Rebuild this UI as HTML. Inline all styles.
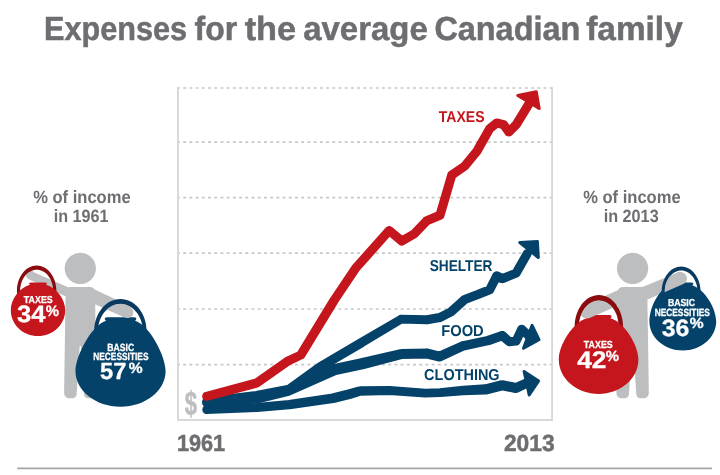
<!DOCTYPE html>
<html lang="en">
<head>
<meta charset="utf-8">
<title>Expenses for the average Canadian family</title>
<style>
html,body{margin:0;padding:0;background:#fff;}
body{width:720px;height:475px;overflow:hidden;}
svg{display:block;}
svg text{font-family:"Liberation Sans",sans-serif;text-rendering:geometricPrecision;}
</style>
</head>
<body>
<svg width="720" height="475" viewBox="0 0 720 475">
<rect width="720" height="475" fill="#ffffff"/>
<g stroke="#c6c7c9" stroke-width="1.7" stroke-dasharray="2.9 3.312" fill="none">
<line x1="177" y1="88.0" x2="552.5" y2="88.0"/>
<line x1="177" y1="142.1" x2="552.5" y2="142.1"/>
<line x1="177" y1="197.7" x2="552.5" y2="197.7"/>
<line x1="177" y1="253.1" x2="552.5" y2="253.1"/>
<line x1="177" y1="309.0" x2="552.5" y2="309.0"/>
<line x1="177" y1="364.6" x2="552.5" y2="364.6"/>
</g>
<path d="M178,87.2 V420 H552.1 V87.2" fill="none" stroke="#d7d8db" stroke-width="1.9"/>
<text x="184.78" y="415.17" font-size="33.78" font-weight="bold" fill="#bcbec0" textLength="12.37" lengthAdjust="spacingAndGlyphs" stroke="#bcbec0" stroke-width="0.5">$</text>
<line x1="17.2" y1="468.3" x2="712" y2="468.3" stroke="#a2a3a8" stroke-width="1.7"/>
<text y="40" font-size="33.4" font-weight="bold" fill="#6d6e71" stroke="#6d6e71" stroke-width="0.5"><tspan x="44.01" textLength="143.10" lengthAdjust="spacingAndGlyphs">Expenses</tspan> <tspan x="194.52" textLength="42.63" lengthAdjust="spacingAndGlyphs">for</tspan> <tspan x="244.66" textLength="51.41" lengthAdjust="spacingAndGlyphs">the</tspan> <tspan x="303.18" textLength="124.55" lengthAdjust="spacingAndGlyphs">average</tspan> <tspan x="434.40" textLength="145.87" lengthAdjust="spacingAndGlyphs">Canadian</tspan> <tspan x="586.20" textLength="96.54" lengthAdjust="spacingAndGlyphs">family</tspan></text>
<text font-size="17.8" font-weight="bold" fill="#6d6e71"><tspan x="33.17" y="202.6" textLength="97.45" lengthAdjust="spacingAndGlyphs">% of income</tspan> <tspan x="53.65" y="222.4" textLength="54.88" lengthAdjust="spacingAndGlyphs">in 1961</tspan></text>
<text font-size="17.8" font-weight="bold" fill="#6d6e71"><tspan x="583.17" y="202.6" textLength="97.45" lengthAdjust="spacingAndGlyphs">% of income</tspan> <tspan x="603.64" y="222.4" textLength="55.04" lengthAdjust="spacingAndGlyphs">in 2013</tspan></text>
<text x="176.90" y="451.4" font-size="23.4" font-weight="bold" fill="#6d6e71" textLength="48.27" lengthAdjust="spacingAndGlyphs" stroke="#6d6e71" stroke-width="0.5">1961</text>
<text x="503.92" y="451.4" font-size="23.4" font-weight="bold" fill="#6d6e71" textLength="50.71" lengthAdjust="spacingAndGlyphs" stroke="#6d6e71" stroke-width="0.5">2013</text>
<path d="M211.1,409.7 L210.9,411.1 L210.3,412.3 L209.3,413.3 L208.1,413.9 L206.7,414.1 L205.3,413.9 L204.1,413.3 L203.1,412.3 L202.5,411.1 L202.3,409.7 L202.5,408.3 L203.1,407.1 L204.1,406.1 L205.3,405.5 L206.7,405.3 L208.1,405.5 L209.3,406.1 L210.3,407.1 L210.9,408.3Z M206.5,405.3 L256.5,403.1 L256.9,411.9 L206.9,414.1Z M261.1,407.5 L260.9,408.9 L260.3,410.1 L259.3,411.1 L258.1,411.7 L256.7,411.9 L255.3,411.7 L254.1,411.1 L253.1,410.1 L252.5,408.9 L252.3,407.5 L252.5,406.1 L253.1,404.9 L254.1,403.9 L255.3,403.3 L256.7,403.1 L258.1,403.3 L259.3,403.9 L260.3,404.9 L260.9,406.1Z M256.3,403.1 L288.8,400.1 L289.6,409.3 L257.1,411.9Z M293.8,404.7 L293.6,406.1 L292.9,407.4 L291.9,408.4 L290.6,409.1 L289.2,409.3 L287.8,409.1 L286.5,408.4 L285.5,407.4 L284.8,406.1 L284.6,404.7 L284.8,403.3 L285.5,402.0 L286.5,401.0 L287.8,400.3 L289.2,400.1 L290.6,400.3 L291.9,401.0 L292.9,402.0 L293.6,403.3Z M288.5,400.1 L332.3,393.6 L333.7,403.0 L289.9,409.3Z M337.8,398.3 L337.6,399.8 L336.9,401.1 L335.8,402.2 L334.5,402.9 L333.0,403.1 L331.5,402.9 L330.2,402.2 L329.1,401.1 L328.4,399.8 L328.2,398.3 L328.4,396.8 L329.1,395.5 L330.2,394.4 L331.5,393.7 L333.0,393.5 L334.5,393.7 L335.8,394.4 L336.9,395.5 L337.6,396.8Z M331.8,393.6 L348.8,389.2 L351.2,398.8 L334.2,403.0Z M354.9,394.0 L354.7,395.5 L354.0,396.9 L352.9,398.0 L351.5,398.7 L350.0,398.9 L348.5,398.7 L347.1,398.0 L346.0,396.9 L345.3,395.5 L345.1,394.0 L345.3,392.5 L346.0,391.1 L347.1,390.0 L348.5,389.3 L350.0,389.1 L351.5,389.3 L352.9,390.0 L354.0,391.1 L354.7,392.5Z M348.6,389.3 L358.6,386.5 L361.4,395.5 L351.4,398.7Z M364.7,391.0 L364.5,392.5 L363.8,393.8 L362.8,394.8 L361.5,395.5 L360.0,395.7 L358.5,395.5 L357.2,394.8 L356.2,393.8 L355.5,392.5 L355.3,391.0 L355.5,389.5 L356.2,388.2 L357.2,387.2 L358.5,386.5 L360.0,386.3 L361.5,386.5 L362.8,387.2 L363.8,388.2 L364.5,389.5Z M359.9,386.3 L389.4,386.1 L389.6,394.9 L360.1,395.7Z M393.9,390.5 L393.7,391.9 L393.1,393.1 L392.1,394.1 L390.9,394.7 L389.5,394.9 L388.1,394.7 L386.9,394.1 L385.9,393.1 L385.3,391.9 L385.1,390.5 L385.3,389.1 L385.9,387.9 L386.9,386.9 L388.1,386.3 L389.5,386.1 L390.9,386.3 L392.1,386.9 L393.1,387.9 L393.7,389.1Z M389.8,386.1 L425.6,388.7 L425.0,397.5 L389.2,394.9Z M429.7,393.1 L429.5,394.5 L428.9,395.7 L427.9,396.7 L426.7,397.3 L425.3,397.5 L423.9,397.3 L422.7,396.7 L421.7,395.7 L421.1,394.5 L420.9,393.1 L421.1,391.7 L421.7,390.5 L422.7,389.5 L423.9,388.9 L425.3,388.7 L426.7,388.9 L427.9,389.5 L428.9,390.5 L429.5,391.7Z M425.2,388.7 L439.9,388.2 L440.1,397.0 L425.4,397.5Z M444.4,392.6 L444.2,394.0 L443.6,395.2 L442.6,396.2 L441.4,396.8 L440.0,397.0 L438.6,396.8 L437.4,396.2 L436.4,395.2 L435.8,394.0 L435.6,392.6 L435.8,391.2 L436.4,390.0 L437.4,389.0 L438.6,388.4 L440.0,388.2 L441.4,388.4 L442.6,389.0 L443.6,390.0 L444.2,391.2Z M439.6,388.2 L462.9,385.8 L463.7,395.2 L440.4,397.0Z M468.0,390.5 L467.8,392.0 L467.1,393.3 L466.1,394.3 L464.8,395.0 L463.3,395.2 L461.8,395.0 L460.5,394.3 L459.5,393.3 L458.8,392.0 L458.6,390.5 L458.8,389.0 L459.5,387.7 L460.5,386.7 L461.8,386.0 L463.3,385.8 L464.8,386.0 L466.1,386.7 L467.1,387.7 L467.8,389.0Z M463.1,385.8 L485.3,384.3 L485.9,394.5 L463.5,395.2Z M490.7,389.4 L490.5,391.0 L489.7,392.4 L488.6,393.5 L487.2,394.3 L485.6,394.5 L484.0,394.3 L482.6,393.5 L481.5,392.4 L480.7,391.0 L480.5,389.4 L480.7,387.8 L481.5,386.4 L482.6,385.3 L484.0,384.5 L485.6,384.3 L487.2,384.5 L488.6,385.3 L489.7,386.4 L490.5,387.8Z M484.4,384.4 L501.0,380.3 L503.4,390.3 L486.8,394.4Z M507.3,385.3 L507.1,386.9 L506.3,388.3 L505.2,389.4 L503.8,390.2 L502.2,390.4 L500.6,390.2 L499.2,389.4 L498.1,388.3 L497.3,386.9 L497.1,385.3 L497.3,383.7 L498.1,382.3 L499.2,381.2 L500.6,380.4 L502.2,380.2 L503.8,380.4 L505.2,381.2 L506.3,382.3 L507.1,383.7Z M503.2,380.3 L517.0,383.1 L515.0,392.9 L501.2,390.3Z M521.0,388.0 L520.8,389.5 L520.0,390.9 L518.9,392.0 L517.5,392.8 L516.0,393.0 L514.5,392.8 L513.1,392.0 L512.0,390.9 L511.2,389.5 L511.0,388.0 L511.2,386.5 L512.0,385.1 L513.1,384.0 L514.5,383.2 L516.0,383.0 L517.5,383.2 L518.9,384.0 L520.0,385.1 L520.8,386.5Z M513.9,383.5 L526.0,378.2 L530.0,386.8 L518.1,392.5Z M532.8,382.5 L532.5,384.0 L531.8,385.3 L530.8,386.3 L529.5,387.0 L528.0,387.2 L526.5,387.0 L525.2,386.3 L524.2,385.3 L523.5,384.0 L523.2,382.5 L523.5,381.0 L524.2,379.7 L525.2,378.7 L526.5,378.0 L528.0,377.8 L529.5,378.0 L530.8,378.7 L531.8,379.7 L532.5,381.0Z" fill="#04426a" fill-rule="nonzero"/>
<polygon points="524.1,371.4 538.6,380.9 529.2,394.9" fill="#04426a" stroke="#04426a" stroke-width="3" stroke-linejoin="round"/>
<path d="M211.2,403.0 L211.0,404.4 L210.3,405.6 L209.3,406.6 L208.1,407.3 L206.7,407.5 L205.3,407.3 L204.1,406.6 L203.1,405.6 L202.4,404.4 L202.2,403.0 L202.4,401.6 L203.1,400.4 L204.1,399.4 L205.3,398.7 L206.7,398.5 L208.1,398.7 L209.3,399.4 L210.3,400.4 L211.0,401.6Z M206.3,398.5 L256.3,394.5 L257.1,403.5 L207.1,407.5Z M261.2,399.0 L261.0,400.4 L260.3,401.6 L259.3,402.6 L258.1,403.3 L256.7,403.5 L255.3,403.3 L254.1,402.6 L253.1,401.6 L252.4,400.4 L252.2,399.0 L252.4,397.6 L253.1,396.4 L254.1,395.4 L255.3,394.7 L256.7,394.5 L258.1,394.7 L259.3,395.4 L260.3,396.4 L261.0,397.6Z M255.6,394.6 L288.1,386.6 L290.3,395.4 L257.8,403.4Z M293.7,391.0 L293.5,392.4 L292.8,393.6 L291.8,394.6 L290.6,395.3 L289.2,395.5 L287.8,395.3 L286.6,394.6 L285.6,393.6 L284.9,392.4 L284.7,391.0 L284.9,389.6 L285.6,388.4 L286.6,387.4 L287.8,386.7 L289.2,386.5 L290.6,386.7 L291.8,387.4 L292.8,388.4 L293.5,389.6Z M287.3,386.9 L332.6,364.4 L337.4,374.6 L291.1,395.1Z M340.6,369.5 L340.4,371.2 L339.6,372.8 L338.3,374.1 L336.7,374.9 L335.0,375.1 L333.3,374.9 L331.7,374.1 L330.4,372.8 L329.6,371.2 L329.4,369.5 L329.6,367.8 L330.4,366.2 L331.7,364.9 L333.3,364.1 L335.0,363.9 L336.7,364.1 L338.3,364.9 L339.6,366.2 L340.4,367.8Z M333.8,364.0 L360.8,358.2 L363.2,369.2 L336.2,375.0Z M367.6,363.7 L367.4,365.4 L366.6,367.0 L365.3,368.3 L363.7,369.1 L362.0,369.3 L360.3,369.1 L358.7,368.3 L357.4,367.0 L356.6,365.4 L356.4,363.7 L356.6,362.0 L357.4,360.4 L358.7,359.1 L360.3,358.3 L362.0,358.1 L363.7,358.3 L365.3,359.1 L366.6,360.4 L367.4,362.0Z M360.6,358.2 L399.8,349.2 L402.2,359.0 L363.4,369.2Z M406.0,354.1 L405.8,355.6 L405.0,357.0 L403.9,358.1 L402.5,358.9 L401.0,359.1 L399.5,358.9 L398.1,358.1 L397.0,357.0 L396.2,355.6 L396.0,354.1 L396.2,352.6 L397.0,351.2 L398.1,350.1 L399.5,349.3 L401.0,349.1 L402.5,349.3 L403.9,350.1 L405.0,351.2 L405.8,352.6Z M400.9,349.1 L427.3,348.6 L427.5,358.6 L401.1,359.1Z M432.4,353.6 L432.2,355.1 L431.4,356.5 L430.3,357.6 L428.9,358.4 L427.4,358.6 L425.9,358.4 L424.5,357.6 L423.4,356.5 L422.6,355.1 L422.4,353.6 L422.6,352.1 L423.4,350.7 L424.5,349.6 L425.9,348.8 L427.4,348.6 L428.9,348.8 L430.3,349.6 L431.4,350.7 L432.2,352.1Z M428.6,348.7 L440.9,351.8 L438.5,361.4 L426.2,358.5Z M444.6,356.6 L444.4,358.1 L443.7,359.5 L442.6,360.6 L441.2,361.3 L439.7,361.5 L438.2,361.3 L436.8,360.6 L435.7,359.5 L435.0,358.1 L434.8,356.6 L435.0,355.1 L435.7,353.7 L436.8,352.6 L438.2,351.9 L439.7,351.7 L441.2,351.9 L442.6,352.6 L443.7,353.7 L444.4,355.1Z M437.7,352.1 L461.3,341.5 L465.3,350.1 L441.7,361.1Z M468.0,345.8 L467.8,347.3 L467.1,348.6 L466.1,349.6 L464.8,350.3 L463.3,350.5 L461.8,350.3 L460.5,349.6 L459.5,348.6 L458.8,347.3 L458.6,345.8 L458.8,344.3 L459.5,343.0 L460.5,342.0 L461.8,341.3 L463.3,341.1 L464.8,341.3 L466.1,342.0 L467.1,343.0 L467.8,344.3Z M462.3,341.2 L487.3,335.9 L489.3,345.1 L464.3,350.4Z M493.0,340.5 L492.8,342.0 L492.1,343.3 L491.1,344.3 L489.8,345.0 L488.3,345.2 L486.8,345.0 L485.5,344.3 L484.5,343.3 L483.8,342.0 L483.6,340.5 L483.8,339.0 L484.5,337.7 L485.5,336.7 L486.8,336.0 L488.3,335.8 L489.8,336.0 L491.1,336.7 L492.1,337.7 L492.8,339.0Z M486.7,336.1 L500.6,331.2 L503.8,340.0 L489.9,344.9Z M506.9,335.6 L506.7,337.1 L506.0,338.4 L505.0,339.4 L503.7,340.1 L502.2,340.3 L500.7,340.1 L499.4,339.4 L498.4,338.4 L497.7,337.1 L497.5,335.6 L497.7,334.1 L498.4,332.8 L499.4,331.8 L500.7,331.1 L502.2,330.9 L503.7,331.1 L505.0,331.8 L506.0,332.8 L506.7,334.1Z M505.3,332.1 L512.2,338.3 L506.2,345.1 L499.1,339.1Z M513.7,341.7 L513.5,343.1 L512.8,344.3 L511.8,345.3 L510.6,346.0 L509.2,346.2 L507.8,346.0 L506.6,345.3 L505.6,344.3 L504.9,343.1 L504.7,341.7 L504.9,340.3 L505.6,339.1 L506.6,338.1 L507.8,337.4 L509.2,337.2 L510.6,337.4 L511.8,338.1 L512.8,339.1 L513.5,340.3Z M508.8,337.2 L515.7,336.6 L516.5,345.6 L509.6,346.2Z M520.6,341.1 L520.4,342.5 L519.7,343.7 L518.7,344.7 L517.5,345.4 L516.1,345.6 L514.7,345.4 L513.5,344.7 L512.5,343.7 L511.8,342.5 L511.6,341.1 L511.8,339.7 L512.5,338.5 L513.5,337.5 L514.7,336.8 L516.1,336.6 L517.5,336.8 L518.7,337.5 L519.7,338.5 L520.4,339.7Z M512.0,339.2 L517.6,327.3 L525.8,331.1 L520.2,343.0Z M526.2,329.2 L526.0,330.6 L525.3,331.8 L524.3,332.8 L523.1,333.5 L521.7,333.7 L520.3,333.5 L519.1,332.8 L518.1,331.8 L517.4,330.6 L517.2,329.2 L517.4,327.8 L518.1,326.6 L519.1,325.6 L520.3,324.9 L521.7,324.7 L523.1,324.9 L524.3,325.6 L525.3,326.6 L526.0,327.8Z M524.8,325.9 L533.1,333.7 L526.9,340.3 L518.6,332.5Z M534.5,337.0 L534.3,338.4 L533.6,339.6 L532.6,340.6 L531.4,341.3 L530.0,341.5 L528.6,341.3 L527.4,340.6 L526.4,339.6 L525.7,338.4 L525.5,337.0 L525.7,335.6 L526.4,334.4 L527.4,333.4 L528.6,332.7 L530.0,332.5 L531.4,332.7 L532.6,333.4 L533.6,334.4 L534.3,335.6Z" fill="#04426a" fill-rule="nonzero"/>
<polygon points="532.1,325.3 539.0,339.6 523.5,348.3" fill="#04426a" stroke="#04426a" stroke-width="3" stroke-linejoin="round"/>
<path d="M211.2,401.6 L211.0,403.0 L210.4,404.3 L209.4,405.3 L208.1,405.9 L206.7,406.2 L205.3,405.9 L204.0,405.3 L203.0,404.3 L202.4,403.0 L202.1,401.6 L202.4,400.2 L203.0,398.9 L204.0,397.9 L205.3,397.3 L206.7,397.1 L208.1,397.3 L209.4,397.9 L210.4,398.9 L211.0,400.2Z M206.1,397.1 L256.1,391.0 L257.3,400.0 L207.3,406.1Z M261.2,395.5 L261.0,396.9 L260.4,398.2 L259.4,399.2 L258.1,399.8 L256.7,400.1 L255.3,399.8 L254.0,399.2 L253.0,398.2 L252.4,396.9 L252.1,395.5 L252.4,394.1 L253.0,392.8 L254.0,391.8 L255.3,391.2 L256.7,390.9 L258.1,391.2 L259.4,391.8 L260.4,392.8 L261.0,394.1Z M255.8,391.0 L288.3,384.8 L290.1,393.8 L257.6,400.0Z M293.8,389.3 L293.5,390.7 L292.9,392.0 L291.9,393.0 L290.6,393.6 L289.2,393.9 L287.8,393.6 L286.5,393.0 L285.5,392.0 L284.9,390.7 L284.6,389.3 L284.9,387.9 L285.5,386.6 L286.5,385.6 L287.8,385.0 L289.2,384.8 L290.6,385.0 L291.9,385.6 L292.9,386.6 L293.5,387.9Z M286.5,385.6 L317.2,363.2 L322.8,370.8 L291.9,393.0Z M324.8,367.0 L324.5,368.5 L323.8,369.8 L322.8,370.8 L321.5,371.5 L320.0,371.8 L318.5,371.5 L317.2,370.8 L316.2,369.8 L315.5,368.5 L315.2,367.0 L315.5,365.5 L316.2,364.2 L317.2,363.2 L318.5,362.5 L320.0,362.2 L321.5,362.5 L322.8,363.2 L323.8,364.2 L324.5,365.5Z M317.6,362.9 L359.6,338.2 L364.4,346.4 L322.4,371.1Z M366.7,342.3 L366.5,343.8 L365.8,345.1 L364.8,346.1 L363.5,346.8 L362.0,347.0 L360.5,346.8 L359.2,346.1 L358.2,345.1 L357.5,343.8 L357.3,342.3 L357.5,340.8 L358.2,339.5 L359.2,338.5 L360.5,337.8 L362.0,337.6 L363.5,337.8 L364.8,338.5 L365.8,339.5 L366.5,340.8Z M359.6,338.3 L398.8,315.4 L403.2,323.0 L364.4,346.3Z M405.4,319.2 L405.2,320.6 L404.6,321.8 L403.6,322.8 L402.4,323.4 L401.0,323.6 L399.6,323.4 L398.4,322.8 L397.4,321.8 L396.8,320.6 L396.6,319.2 L396.8,317.8 L397.4,316.6 L398.4,315.6 L399.6,315.0 L401.0,314.8 L402.4,315.0 L403.6,315.6 L404.6,316.6 L405.2,317.8Z M401.1,314.8 L427.1,315.3 L426.9,324.3 L400.9,323.6Z M431.6,319.8 L431.3,321.2 L430.7,322.5 L429.7,323.5 L428.4,324.1 L427.0,324.4 L425.6,324.1 L424.3,323.5 L423.3,322.5 L422.7,321.2 L422.4,319.8 L422.7,318.4 L423.3,317.1 L424.3,316.1 L425.6,315.5 L427.0,315.2 L428.4,315.5 L429.7,316.1 L430.7,317.1 L431.3,318.4Z M426.2,315.3 L438.9,313.1 L440.5,322.1 L427.8,324.3Z M444.2,317.6 L444.0,319.0 L443.4,320.3 L442.4,321.3 L441.1,321.9 L439.7,322.2 L438.3,321.9 L437.0,321.3 L436.0,320.3 L435.4,319.0 L435.1,317.6 L435.4,316.2 L436.0,314.9 L437.0,313.9 L438.3,313.3 L439.7,313.1 L441.1,313.3 L442.4,313.9 L443.4,314.9 L444.0,316.2Z M437.7,313.5 L448.8,307.9 L452.8,316.1 L441.7,321.7Z M455.4,312.0 L455.1,313.4 L454.5,314.7 L453.5,315.7 L452.2,316.3 L450.8,316.6 L449.4,316.3 L448.1,315.7 L447.1,314.7 L446.5,313.4 L446.2,312.0 L446.5,310.6 L447.1,309.3 L448.1,308.3 L449.4,307.7 L450.8,307.4 L452.2,307.7 L453.5,308.3 L454.5,309.3 L455.1,310.6Z M447.8,308.6 L461.7,296.1 L467.7,302.9 L453.8,315.4Z M469.2,299.5 L469.0,300.9 L468.4,302.2 L467.4,303.2 L466.1,303.8 L464.7,304.1 L463.3,303.8 L462.0,303.2 L461.0,302.2 L460.4,300.9 L460.1,299.5 L460.4,298.1 L461.0,296.8 L462.0,295.8 L463.3,295.2 L464.7,294.9 L466.1,295.2 L467.4,295.8 L468.4,296.8 L469.0,298.1Z M463.1,295.2 L475.6,290.5 L478.8,299.1 L466.3,303.8Z M481.8,294.8 L481.5,296.2 L480.9,297.5 L479.9,298.5 L478.6,299.1 L477.2,299.4 L475.8,299.1 L474.5,298.5 L473.5,297.5 L472.9,296.2 L472.6,294.8 L472.9,293.4 L473.5,292.1 L474.5,291.1 L475.8,290.5 L477.2,290.2 L478.6,290.5 L479.9,291.1 L480.9,292.1 L481.5,293.4Z M475.5,290.6 L488.0,285.6 L491.4,294.0 L478.9,299.0Z M494.2,289.8 L494.0,291.2 L493.4,292.5 L492.4,293.5 L491.1,294.1 L489.7,294.4 L488.3,294.1 L487.0,293.5 L486.0,292.5 L485.4,291.2 L485.1,289.8 L485.4,288.4 L486.0,287.1 L487.0,286.1 L488.3,285.5 L489.7,285.2 L491.1,285.5 L492.4,286.1 L493.4,287.1 L494.0,288.4Z M485.6,287.8 L492.6,273.9 L500.8,277.9 L493.8,291.8Z M501.2,275.9 L501.0,277.3 L500.4,278.6 L499.4,279.6 L498.1,280.2 L496.7,280.4 L495.3,280.2 L494.0,279.6 L493.0,278.6 L492.4,277.3 L492.1,275.9 L492.4,274.5 L493.0,273.2 L494.0,272.2 L495.3,271.6 L496.7,271.3 L498.1,271.6 L499.4,272.2 L500.4,273.2 L501.0,274.5Z M498.8,271.8 L504.3,274.6 L500.1,282.8 L494.6,280.0Z M506.8,278.7 L506.5,280.1 L505.9,281.4 L504.9,282.4 L503.6,283.0 L502.2,283.2 L500.8,283.0 L499.5,282.4 L498.5,281.4 L497.9,280.1 L497.6,278.7 L497.9,277.3 L498.5,276.0 L499.5,275.0 L500.8,274.4 L502.2,274.1 L503.6,274.4 L504.9,275.0 L505.9,276.0 L506.5,277.3Z M500.5,274.5 L514.4,268.9 L517.8,277.3 L503.9,282.9Z M520.6,273.1 L520.4,274.5 L519.8,275.8 L518.8,276.8 L517.5,277.4 L516.1,277.7 L514.7,277.4 L513.4,276.8 L512.4,275.8 L511.8,274.5 L511.6,273.1 L511.8,271.7 L512.4,270.4 L513.4,269.4 L514.7,268.8 L516.1,268.6 L517.5,268.8 L518.8,269.4 L519.8,270.4 L520.4,271.7Z M512.2,270.8 L523.3,251.4 L531.1,256.0 L520.0,275.4Z M531.8,253.7 L531.5,255.1 L530.9,256.4 L529.9,257.4 L528.6,258.0 L527.2,258.2 L525.8,258.0 L524.5,257.4 L523.5,256.4 L522.9,255.1 L522.7,253.7 L522.9,252.3 L523.5,251.0 L524.5,250.0 L525.8,249.4 L527.2,249.1 L528.6,249.4 L529.9,250.0 L530.9,251.0 L531.5,252.3Z" fill="#04426a" fill-rule="nonzero"/>
<polygon points="519.8,242.5 537.4,241.4 538.3,257.5" fill="#04426a" stroke="#04426a" stroke-width="3" stroke-linejoin="round"/>
<path d="M211.2,396.3 L211.0,397.7 L210.4,399.0 L209.4,400.0 L208.1,400.6 L206.7,400.9 L205.3,400.6 L204.0,400.0 L203.0,399.0 L202.4,397.7 L202.1,396.3 L202.4,394.9 L203.0,393.6 L204.0,392.6 L205.3,392.0 L206.7,391.8 L208.1,392.0 L209.4,392.6 L210.4,393.6 L211.0,394.9Z M205.5,391.9 L255.5,378.6 L257.9,387.4 L207.9,400.7Z M261.2,383.0 L261.0,384.4 L260.4,385.7 L259.4,386.7 L258.1,387.3 L256.7,387.6 L255.3,387.3 L254.0,386.7 L253.0,385.7 L252.4,384.4 L252.1,383.0 L252.4,381.6 L253.0,380.3 L254.0,379.3 L255.3,378.7 L256.7,378.4 L258.1,378.7 L259.4,379.3 L260.4,380.3 L261.0,381.6Z M254.1,379.3 L285.7,357.1 L290.9,364.5 L259.3,386.7Z M292.9,360.8 L292.6,362.2 L292.0,363.5 L291.0,364.5 L289.7,365.1 L288.3,365.4 L286.9,365.1 L285.6,364.5 L284.6,363.5 L284.0,362.2 L283.8,360.8 L284.0,359.4 L284.6,358.1 L285.6,357.1 L286.9,356.5 L288.3,356.2 L289.7,356.5 L291.0,357.1 L292.0,358.1 L292.6,359.4Z M286.4,356.7 L298.9,350.9 L302.7,359.1 L290.2,364.9Z M305.4,355.0 L305.1,356.4 L304.5,357.7 L303.5,358.7 L302.2,359.3 L300.8,359.6 L299.4,359.3 L298.1,358.7 L297.1,357.7 L296.5,356.4 L296.2,355.0 L296.5,353.6 L297.1,352.3 L298.1,351.3 L299.4,350.7 L300.8,350.4 L302.2,350.7 L303.5,351.3 L304.5,352.3 L305.1,353.6Z M296.9,352.6 L330.1,298.1 L337.9,302.9 L304.7,357.4Z M338.6,300.5 L338.3,301.9 L337.7,303.2 L336.7,304.2 L335.4,304.8 L334.0,305.1 L332.6,304.8 L331.3,304.2 L330.3,303.2 L329.7,301.9 L329.4,300.5 L329.7,299.1 L330.3,297.8 L331.3,296.8 L332.6,296.2 L334.0,295.9 L335.4,296.2 L336.7,296.8 L337.7,297.8 L338.3,299.1Z M330.2,298.0 L352.0,265.5 L359.6,270.5 L337.8,303.0Z M360.4,268.0 L360.1,269.4 L359.5,270.7 L358.5,271.7 L357.2,272.3 L355.8,272.6 L354.4,272.3 L353.1,271.7 L352.1,270.7 L351.5,269.4 L351.2,268.0 L351.5,266.6 L352.1,265.3 L353.1,264.3 L354.4,263.7 L355.8,263.4 L357.2,263.7 L358.5,264.3 L359.5,265.3 L360.1,266.6Z M352.4,265.0 L385.8,227.6 L392.6,233.6 L359.2,271.0Z M393.8,230.6 L393.5,232.0 L392.9,233.3 L391.9,234.3 L390.6,234.9 L389.2,235.2 L387.8,234.9 L386.5,234.3 L385.5,233.3 L384.9,232.0 L384.6,230.6 L384.9,229.2 L385.5,227.9 L386.5,226.9 L387.8,226.3 L389.2,226.0 L390.6,226.3 L391.9,226.9 L392.9,227.9 L393.5,229.2Z M392.1,227.1 L404.6,237.6 L398.8,244.6 L386.3,234.1Z M406.2,241.1 L406.0,242.5 L405.4,243.8 L404.4,244.8 L403.1,245.4 L401.7,245.7 L400.3,245.4 L399.0,244.8 L398.0,243.8 L397.4,242.5 L397.1,241.1 L397.4,239.7 L398.0,238.4 L399.0,237.4 L400.3,236.8 L401.7,236.5 L403.1,236.8 L404.4,237.4 L405.4,238.4 L406.0,239.7Z M399.4,237.2 L411.9,230.0 L416.5,237.8 L404.0,245.0Z M418.8,233.9 L418.5,235.3 L417.9,236.6 L416.9,237.6 L415.6,238.2 L414.2,238.5 L412.8,238.2 L411.5,237.6 L410.5,236.6 L409.9,235.3 L409.6,233.9 L409.9,232.5 L410.5,231.2 L411.5,230.2 L412.8,229.6 L414.2,229.3 L415.6,229.6 L416.9,230.2 L417.9,231.2 L418.5,232.5Z M410.9,230.8 L423.4,217.7 L430.0,223.9 L417.5,237.0Z M431.2,220.8 L431.0,222.2 L430.4,223.5 L429.4,224.5 L428.1,225.1 L426.7,225.4 L425.3,225.1 L424.0,224.5 L423.0,223.5 L422.4,222.2 L422.1,220.8 L422.4,219.4 L423.0,218.1 L424.0,217.1 L425.3,216.5 L426.7,216.2 L428.1,216.5 L429.4,217.1 L430.4,218.1 L431.0,219.4Z M425.0,216.6 L438.3,211.1 L441.7,219.5 L428.4,225.0Z M444.6,215.3 L444.3,216.7 L443.7,218.0 L442.7,219.0 L441.4,219.6 L440.0,219.9 L438.6,219.6 L437.3,219.0 L436.3,218.0 L435.7,216.7 L435.4,215.3 L435.7,213.9 L436.3,212.6 L437.3,211.6 L438.6,211.0 L440.0,210.8 L441.4,211.0 L442.7,211.6 L443.7,212.6 L444.3,213.9Z M435.6,214.0 L447.4,173.7 L456.2,176.3 L444.4,216.6Z M456.4,175.0 L456.1,176.4 L455.5,177.7 L454.5,178.7 L453.2,179.3 L451.8,179.6 L450.4,179.3 L449.1,178.7 L448.1,177.7 L447.5,176.4 L447.2,175.0 L447.5,173.6 L448.1,172.3 L449.1,171.3 L450.4,170.7 L451.8,170.4 L453.2,170.7 L454.5,171.3 L455.5,172.3 L456.1,173.6Z M449.2,171.3 L462.1,162.4 L467.3,169.8 L454.4,178.7Z M469.2,166.1 L469.0,167.5 L468.4,168.8 L467.4,169.8 L466.1,170.4 L464.7,170.7 L463.3,170.4 L462.0,169.8 L461.0,168.8 L460.4,167.5 L460.1,166.1 L460.4,164.7 L461.0,163.4 L462.0,162.4 L463.3,161.8 L464.7,161.5 L466.1,161.8 L467.4,162.4 L468.4,163.4 L469.0,164.7Z M461.2,163.2 L473.7,147.9 L480.7,153.7 L468.2,169.0Z M481.8,150.8 L481.5,152.2 L480.9,153.5 L479.9,154.5 L478.6,155.1 L477.2,155.4 L475.8,155.1 L474.5,154.5 L473.5,153.5 L472.9,152.2 L472.6,150.8 L472.9,149.4 L473.5,148.1 L474.5,147.1 L475.8,146.5 L477.2,146.2 L478.6,146.5 L479.9,147.1 L480.9,148.1 L481.5,149.4Z M473.2,148.6 L485.7,126.4 L493.7,130.8 L481.2,153.0Z M494.2,128.6 L494.0,130.0 L493.4,131.3 L492.4,132.3 L491.1,132.9 L489.7,133.2 L488.3,132.9 L487.0,132.3 L486.0,131.3 L485.4,130.0 L485.1,128.6 L485.4,127.2 L486.0,125.9 L487.0,124.9 L488.3,124.3 L489.7,124.0 L491.1,124.3 L492.4,124.9 L493.4,125.9 L494.0,127.2Z M486.9,125.0 L493.9,119.4 L499.5,126.6 L492.5,132.2Z M501.2,123.0 L501.0,124.4 L500.4,125.7 L499.4,126.7 L498.1,127.3 L496.7,127.5 L495.3,127.3 L494.0,126.7 L493.0,125.7 L492.4,124.4 L492.1,123.0 L492.4,121.6 L493.0,120.3 L494.0,119.3 L495.3,118.7 L496.7,118.5 L498.1,118.7 L499.4,119.3 L500.4,120.3 L501.0,121.6Z M497.7,118.6 L504.6,120.2 L502.6,129.0 L495.7,127.4Z M508.2,124.6 L507.9,126.0 L507.3,127.3 L506.3,128.3 L505.0,128.9 L503.6,129.2 L502.2,128.9 L500.9,128.3 L499.9,127.3 L499.3,126.0 L499.1,124.6 L499.3,123.2 L499.9,121.9 L500.9,120.9 L502.2,120.3 L503.6,120.0 L505.0,120.3 L506.3,120.9 L507.3,121.9 L507.9,123.2Z M507.3,122.0 L512.5,129.4 L505.1,134.6 L499.9,127.2Z M513.4,132.0 L513.1,133.4 L512.5,134.7 L511.5,135.7 L510.2,136.3 L508.8,136.6 L507.4,136.3 L506.1,135.7 L505.1,134.7 L504.5,133.4 L504.2,132.0 L504.5,130.6 L505.1,129.3 L506.1,128.3 L507.4,127.7 L508.8,127.5 L510.2,127.7 L511.5,128.3 L512.5,129.3 L513.1,130.6Z M505.6,128.8 L512.9,121.6 L519.3,128.0 L512.0,135.2Z M520.6,124.8 L520.4,126.2 L519.8,127.5 L518.8,128.5 L517.5,129.1 L516.1,129.3 L514.7,129.1 L513.4,128.5 L512.4,127.5 L511.8,126.2 L511.6,124.8 L511.8,123.4 L512.4,122.1 L513.4,121.1 L514.7,120.5 L516.1,120.2 L517.5,120.5 L518.8,121.1 L519.8,122.1 L520.4,123.4Z M512.2,122.4 L526.1,99.8 L533.9,104.6 L520.0,127.2Z M534.5,102.2 L534.3,103.6 L533.7,104.9 L532.7,105.9 L531.4,106.5 L530.0,106.8 L528.6,106.5 L527.3,105.9 L526.3,104.9 L525.7,103.6 L525.5,102.2 L525.7,100.8 L526.3,99.5 L527.3,98.5 L528.6,97.9 L530.0,97.7 L531.4,97.9 L532.7,98.5 L533.7,99.5 L534.3,100.8Z" fill="#c4161c" fill-rule="nonzero"/>
<polygon points="517.8,95.5 536.3,91.8 539.2,108.4" fill="#c4161c" stroke="#c4161c" stroke-width="3" stroke-linejoin="round"/>
<text x="438.86" y="121.9" font-size="15.8" font-weight="bold" fill="#c4161c" textLength="45.66" lengthAdjust="spacingAndGlyphs">TAXES</text>
<text x="429.66" y="270.6" font-size="15.8" font-weight="bold" fill="#04426a" textLength="62.83" lengthAdjust="spacingAndGlyphs">SHELTER</text>
<text x="441.24" y="335.5" font-size="15.8" font-weight="bold" fill="#04426a" textLength="42.50" lengthAdjust="spacingAndGlyphs">FOOD</text>
<text x="424.12" y="379.5" font-size="15.8" font-weight="bold" fill="#04426a" textLength="75.51" lengthAdjust="spacingAndGlyphs">CLOTHING</text>
<path d="M95.90,268.40 L95.81,270.03 L95.56,271.64 L95.14,273.22 L94.55,274.75 L93.81,276.20 L92.92,277.57 L91.89,278.84 L90.74,279.99 L89.47,281.02 L88.10,281.91 L86.65,282.65 L85.12,283.24 L83.54,283.66 L81.93,283.91 L80.30,284.00 L78.67,283.91 L77.06,283.66 L75.48,283.24 L73.95,282.65 L72.50,281.91 L71.13,281.02 L69.86,279.99 L68.71,278.84 L67.68,277.57 L66.79,276.20 L66.05,274.75 L65.46,273.22 L65.04,271.64 L64.79,270.03 L64.70,268.40 L64.79,266.77 L65.04,265.16 L65.46,263.58 L66.05,262.05 L66.79,260.60 L67.68,259.23 L68.71,257.96 L69.86,256.81 L71.13,255.78 L72.50,254.89 L73.95,254.15 L75.48,253.56 L77.06,253.14 L78.67,252.89 L80.30,252.80 L81.93,252.89 L83.54,253.14 L85.12,253.56 L86.65,254.15 L88.10,254.89 L89.47,255.78 L90.74,256.81 L91.89,257.96 L92.92,259.23 L93.81,260.60 L94.55,262.05 L95.14,263.58 L95.56,265.16 L95.81,266.77Z M70.70,287.00 L89.90,287.00 L91.43,287.14 L92.69,287.56 L93.67,288.25 L94.39,289.22 L94.83,290.47 L95.00,292.00 L96.50,392.30 L96.33,394.13 L95.83,395.63 L95.00,396.80 L93.83,397.63 L92.33,398.13 L90.50,398.30 L88.90,398.30 L87.37,398.16 L86.12,397.74 L85.15,397.05 L84.46,396.08 L84.04,394.83 L83.90,393.30 L80.90,346.00 L79.70,346.00 L76.70,393.30 L76.56,394.83 L76.14,396.08 L75.45,397.05 L74.48,397.74 L73.23,398.16 L71.70,398.30 L70.10,398.30 L68.27,398.13 L66.77,397.63 L65.60,396.80 L64.77,395.63 L64.27,394.13 L64.10,392.30 L65.60,292.00 L65.77,290.47 L66.21,289.22 L66.92,288.25 L67.91,287.56 L69.17,287.14 L70.70,287.00Z M80.00,296.00 L66.00,296.50 L27.50,278.80 L31.00,270.90 L72.00,289.00Z M34.60,274.90 L34.52,275.74 L34.27,276.55 L33.88,277.29 L33.34,277.94 L32.69,278.48 L31.95,278.87 L31.14,279.12 L30.30,279.20 L29.46,279.12 L28.65,278.87 L27.91,278.48 L27.26,277.94 L26.72,277.29 L26.33,276.55 L26.08,275.74 L26.00,274.90 L26.08,274.06 L26.33,273.25 L26.72,272.51 L27.26,271.86 L27.91,271.32 L28.65,270.93 L29.46,270.68 L30.30,270.60 L31.14,270.68 L31.95,270.93 L32.69,271.32 L33.34,271.86 L33.88,272.51 L34.27,273.25 L34.52,274.06Z M88.00,286.60 L130.60,306.30 L125.50,317.80 L95.00,304.20 L82.00,296.00Z M133.20,312.40 L133.09,313.49 L132.77,314.54 L132.26,315.51 L131.56,316.36 L130.71,317.06 L129.74,317.57 L128.69,317.89 L127.60,318.00 L126.51,317.89 L125.46,317.57 L124.49,317.06 L123.64,316.36 L122.94,315.51 L122.43,314.54 L122.11,313.49 L122.00,312.40 L122.11,311.31 L122.43,310.26 L122.94,309.29 L123.64,308.44 L124.49,307.74 L125.46,307.23 L126.51,306.91 L127.60,306.80 L128.69,306.91 L129.74,307.23 L130.71,307.74 L131.56,308.44 L132.26,309.29 L132.77,310.26 L133.09,311.31Z" fill="#bcbec0" fill-rule="nonzero"/>
<path d="M17.00,294.00 L17.00,291.00 C17.00,276.97 25.82,265.60 36.70,265.60 C47.58,265.60 56.40,276.97 56.40,291.00 L56.40,294.00 L53.21,294.00 L53.21,291.00 C53.21,279.29 45.82,269.80 36.70,269.80 C27.58,269.80 20.19,279.29 20.19,291.00 L20.19,294.00 Z" fill="#8b0b0e"/>
<path d="M28.8,283.8 Q29.1,282.6 31.2,282.6 L44.8,282.6 Q47.0,282.6 47.2,283.8 L47.2,283.1 L46.0,284.7 C56.6,287.8 65.2,298.8 65.2,310.3 C65.2,324.5 53.0,336.1 38.0,336.1 C23.0,336.1 10.8,324.5 10.8,310.3 C10.8,298.8 19.4,287.8 29.9,284.7 L28.8,283.1 Z" fill="#c4161c"/>
<path d="M94.30,334.00 L94.30,331.00 C94.30,313.33 106.01,299.00 120.45,299.00 C134.89,299.00 146.60,313.33 146.60,331.00 L146.60,334.00 L142.80,334.00 L142.80,331.00 C142.80,316.09 132.79,304.00 120.45,304.00 C108.11,304.00 98.10,316.09 98.10,331.00 L98.10,334.00 Z" fill="#0a3a5f"/>
<path d="M104.8,318.4 Q105.1,317.2 107.3,317.2 L133.8,317.2 Q136.0,317.2 136.3,318.4 L136.3,319.2 L135.1,320.8 C150.3,325.8 165.6,356.9 165.6,371.0 C165.6,390.7 145.4,406.7 120.5,406.7 C95.7,406.7 75.5,390.7 75.5,371.0 C75.5,356.9 90.8,325.8 106.0,320.8 L104.8,319.2 Z" fill="#04426a"/>
<clipPath id="hc1"><ellipse cx="120.45" cy="331.00" rx="22.50" ry="27.15"/></clipPath>
<path d="M88.00,286.60 L130.60,306.30 L125.50,317.80 L95.00,304.20 L82.00,296.00Z M133.20,312.40 L133.09,313.49 L132.77,314.54 L132.26,315.51 L131.56,316.36 L130.71,317.06 L129.74,317.57 L128.69,317.89 L127.60,318.00 L126.51,317.89 L125.46,317.57 L124.49,317.06 L123.64,316.36 L122.94,315.51 L122.43,314.54 L122.11,313.49 L122.00,312.40 L122.11,311.31 L122.43,310.26 L122.94,309.29 L123.64,308.44 L124.49,307.74 L125.46,307.23 L126.51,306.91 L127.60,306.80 L128.69,306.91 L129.74,307.23 L130.71,307.74 L131.56,308.44 L132.26,309.29 L132.77,310.26 L133.09,311.31Z" fill="#bcbec0" clip-path="url(#hc1)"/>
<path d="M648.20,268.40 L648.11,270.03 L647.86,271.64 L647.44,273.22 L646.85,274.75 L646.11,276.20 L645.22,277.57 L644.19,278.84 L643.04,279.99 L641.77,281.02 L640.40,281.91 L638.95,282.65 L637.42,283.24 L635.84,283.66 L634.23,283.91 L632.60,284.00 L630.97,283.91 L629.36,283.66 L627.78,283.24 L626.25,282.65 L624.80,281.91 L623.43,281.02 L622.16,279.99 L621.01,278.84 L619.98,277.57 L619.09,276.20 L618.35,274.75 L617.76,273.22 L617.34,271.64 L617.09,270.03 L617.00,268.40 L617.09,266.77 L617.34,265.16 L617.76,263.58 L618.35,262.05 L619.09,260.60 L619.98,259.23 L621.01,257.96 L622.16,256.81 L623.43,255.78 L624.80,254.89 L626.25,254.15 L627.78,253.56 L629.36,253.14 L630.97,252.89 L632.60,252.80 L634.23,252.89 L635.84,253.14 L637.42,253.56 L638.95,254.15 L640.40,254.89 L641.77,255.78 L643.04,256.81 L644.19,257.96 L645.22,259.23 L646.11,260.60 L646.85,262.05 L647.44,263.58 L647.86,265.16 L648.11,266.77Z M623.00,287.00 L642.20,287.00 L643.73,287.14 L644.99,287.56 L645.98,288.25 L646.69,289.22 L647.13,290.47 L647.30,292.00 L648.80,392.30 L648.63,394.13 L648.13,395.63 L647.30,396.80 L646.13,397.63 L644.63,398.13 L642.80,398.30 L641.20,398.30 L639.67,398.16 L638.42,397.74 L637.45,397.05 L636.76,396.08 L636.34,394.83 L636.20,393.30 L633.20,346.00 L632.00,346.00 L629.00,393.30 L628.86,394.83 L628.44,396.08 L627.75,397.05 L626.78,397.74 L625.53,398.16 L624.00,398.30 L622.40,398.30 L620.57,398.13 L619.07,397.63 L617.90,396.80 L617.07,395.63 L616.57,394.13 L616.40,392.30 L617.90,292.00 L618.07,290.47 L618.51,289.22 L619.23,288.25 L620.21,287.56 L621.47,287.14 L623.00,287.00Z M632.00,296.00 L622.00,303.60 L588.40,318.60 L586.00,304.40 L626.00,286.60Z M593.60,311.70 L593.47,313.01 L593.09,314.26 L592.47,315.42 L591.64,316.44 L590.62,317.27 L589.46,317.89 L588.21,318.27 L586.90,318.40 L585.59,318.27 L584.34,317.89 L583.18,317.27 L582.16,316.44 L581.33,315.42 L580.71,314.26 L580.33,313.01 L580.20,311.70 L580.33,310.39 L580.71,309.14 L581.33,307.98 L582.16,306.96 L583.18,306.13 L584.34,305.51 L585.59,305.13 L586.90,305.00 L588.21,305.13 L589.46,305.51 L590.62,306.13 L591.64,306.96 L592.47,307.98 L593.09,309.14 L593.47,310.39Z M642.00,287.20 L679.50,271.80 L681.60,284.80 L647.00,299.80 L634.00,296.00Z M686.70,278.50 L686.58,279.73 L686.22,280.91 L685.64,282.00 L684.85,282.95 L683.90,283.74 L682.81,284.32 L681.63,284.68 L680.40,284.80 L679.17,284.68 L677.99,284.32 L676.90,283.74 L675.95,282.95 L675.16,282.00 L674.58,280.91 L674.22,279.73 L674.10,278.50 L674.22,277.27 L674.58,276.09 L675.16,275.00 L675.95,274.05 L676.90,273.26 L677.99,272.68 L679.17,272.32 L680.40,272.20 L681.63,272.32 L682.81,272.68 L683.90,273.26 L684.85,274.05 L685.64,275.00 L686.22,276.09 L686.58,277.27Z" fill="#bcbec0" fill-rule="nonzero"/>
<path d="M574.70,330.00 L574.70,327.00 C574.70,309.33 585.53,295.00 598.90,295.00 C612.27,295.00 623.10,309.33 623.10,327.00 L623.10,330.00 L618.84,330.00 L618.84,327.00 C618.84,312.42 609.92,300.60 598.90,300.60 C587.88,300.60 578.96,312.42 578.96,327.00 L578.96,330.00 Z" fill="#8b0b0e"/>
<path d="M585.6,316.3 Q585.9,315.1 588.1,315.1 L609.1,315.1 Q611.4,315.1 611.6,316.3 L611.6,316.7 L610.4,318.3 C624.4,322.4 638.4,345.1 638.4,359.5 C638.4,378.5 620.6,393.9 598.6,393.9 C576.6,393.9 558.8,378.5 558.8,359.5 C558.8,345.1 572.8,322.4 586.8,318.3 L585.6,316.7 Z" fill="#c4161c"/>
<clipPath id="hc2"><ellipse cx="598.90" cy="327.00" rx="20.09" ry="26.55"/></clipPath>
<path d="M632.00,296.00 L622.00,303.60 L588.40,318.60 L586.00,304.40 L626.00,286.60Z M593.60,311.70 L593.47,313.01 L593.09,314.26 L592.47,315.42 L591.64,316.44 L590.62,317.27 L589.46,317.89 L588.21,318.27 L586.90,318.40 L585.59,318.27 L584.34,317.89 L583.18,317.27 L582.16,316.44 L581.33,315.42 L580.71,314.26 L580.33,313.01 L580.20,311.70 L580.33,310.39 L580.71,309.14 L581.33,307.98 L582.16,306.96 L583.18,306.13 L584.34,305.51 L585.59,305.13 L586.90,305.00 L588.21,305.13 L589.46,305.51 L590.62,306.13 L591.64,306.96 L592.47,307.98 L593.09,309.14 L593.47,310.39Z" fill="#bcbec0" clip-path="url(#hc2)"/>
<path d="M661.75,295.00 L661.75,292.00 C661.75,277.97 670.46,266.60 681.20,266.60 C691.94,266.60 700.65,277.97 700.65,292.00 L700.65,295.00 L697.61,295.00 L697.61,292.00 C697.61,280.18 690.26,270.60 681.20,270.60 C672.14,270.60 664.79,280.18 664.79,292.00 L664.79,295.00 Z" fill="#0a3a5f"/>
<path d="M669.3,283.8 Q669.6,282.6 671.8,282.6 L691.0,282.6 Q693.2,282.6 693.5,283.8 L693.5,283.7 L692.3,285.3 C704.7,289.3 716.2,308.5 716.2,321.5 C716.2,337.5 701.2,350.5 682.8,350.5 C664.4,350.5 649.4,337.5 649.4,321.5 C649.4,308.5 658.1,289.3 670.5,285.3 L669.3,283.7 Z" fill="#04426a"/>
<clipPath id="hc3"><ellipse cx="681.20" cy="292.00" rx="16.56" ry="21.55"/></clipPath>
<path d="M642.00,287.20 L679.50,271.80 L681.60,284.80 L647.00,299.80 L634.00,296.00Z M686.70,278.50 L686.58,279.73 L686.22,280.91 L685.64,282.00 L684.85,282.95 L683.90,283.74 L682.81,284.32 L681.63,284.68 L680.40,284.80 L679.17,284.68 L677.99,284.32 L676.90,283.74 L675.95,282.95 L675.16,282.00 L674.58,280.91 L674.22,279.73 L674.10,278.50 L674.22,277.27 L674.58,276.09 L675.16,275.00 L675.95,274.05 L676.90,273.26 L677.99,272.68 L679.17,272.32 L680.40,272.20 L681.63,272.32 L682.81,272.68 L683.90,273.26 L684.85,274.05 L685.64,275.00 L686.22,276.09 L686.58,277.27Z" fill="#bcbec0" clip-path="url(#hc3)"/>
<g stroke="#fff" stroke-width="0.3" stroke-linejoin="round">
<text x="23.81" y="302.60" font-size="10.14" font-weight="bold" fill="#fff" textLength="28.92" lengthAdjust="spacingAndGlyphs">TAXES</text>
<text font-weight="bold" fill="#fff"><tspan x="17.09" y="322.46" font-size="23.66" textLength="28.44" lengthAdjust="spacingAndGlyphs">34</tspan><tspan x="45.80" y="316.05" font-size="15.21" textLength="13.26" lengthAdjust="spacingAndGlyphs">%</tspan></text>
<text font-weight="bold" fill="#fff"><tspan x="107.34" y="350.50" font-size="10.42" textLength="26.79" lengthAdjust="spacingAndGlyphs">BASIC</tspan> <tspan x="93.16" y="359.50" font-size="10.42" textLength="55.35" lengthAdjust="spacingAndGlyphs">NECESSITIES</tspan></text>
<text font-weight="bold" fill="#fff"><tspan x="100.09" y="379.37" font-size="23.29" textLength="26.39" lengthAdjust="spacingAndGlyphs">57</tspan><tspan x="128.89" y="373.15" font-size="14.93" textLength="13.89" lengthAdjust="spacingAndGlyphs">%</tspan></text>
<text x="583.81" y="347.70" font-size="10.28" font-weight="bold" fill="#fff" textLength="28.92" lengthAdjust="spacingAndGlyphs">TAXES</text>
<text font-weight="bold" fill="#fff"><tspan x="577.21" y="367.80" font-size="24.14" textLength="29.24" lengthAdjust="spacingAndGlyphs">42</tspan><tspan x="605.80" y="360.75" font-size="14.79" textLength="13.26" lengthAdjust="spacingAndGlyphs">%</tspan></text>
<text font-weight="bold" fill="#fff"><tspan x="667.93" y="306.40" font-size="10.14" textLength="27.10" lengthAdjust="spacingAndGlyphs">BASIC</tspan> <tspan x="654.66" y="315.60" font-size="10.42" textLength="55.25" lengthAdjust="spacingAndGlyphs">NECESSITIES</tspan></text>
<text font-weight="bold" fill="#fff"><tspan x="661.70" y="335.86" font-size="23.66" textLength="27.70" lengthAdjust="spacingAndGlyphs">36</tspan><tspan x="689.79" y="328.05" font-size="14.79" textLength="13.89" lengthAdjust="spacingAndGlyphs">%</tspan></text>
</g>
</svg>
</body>
</html>
